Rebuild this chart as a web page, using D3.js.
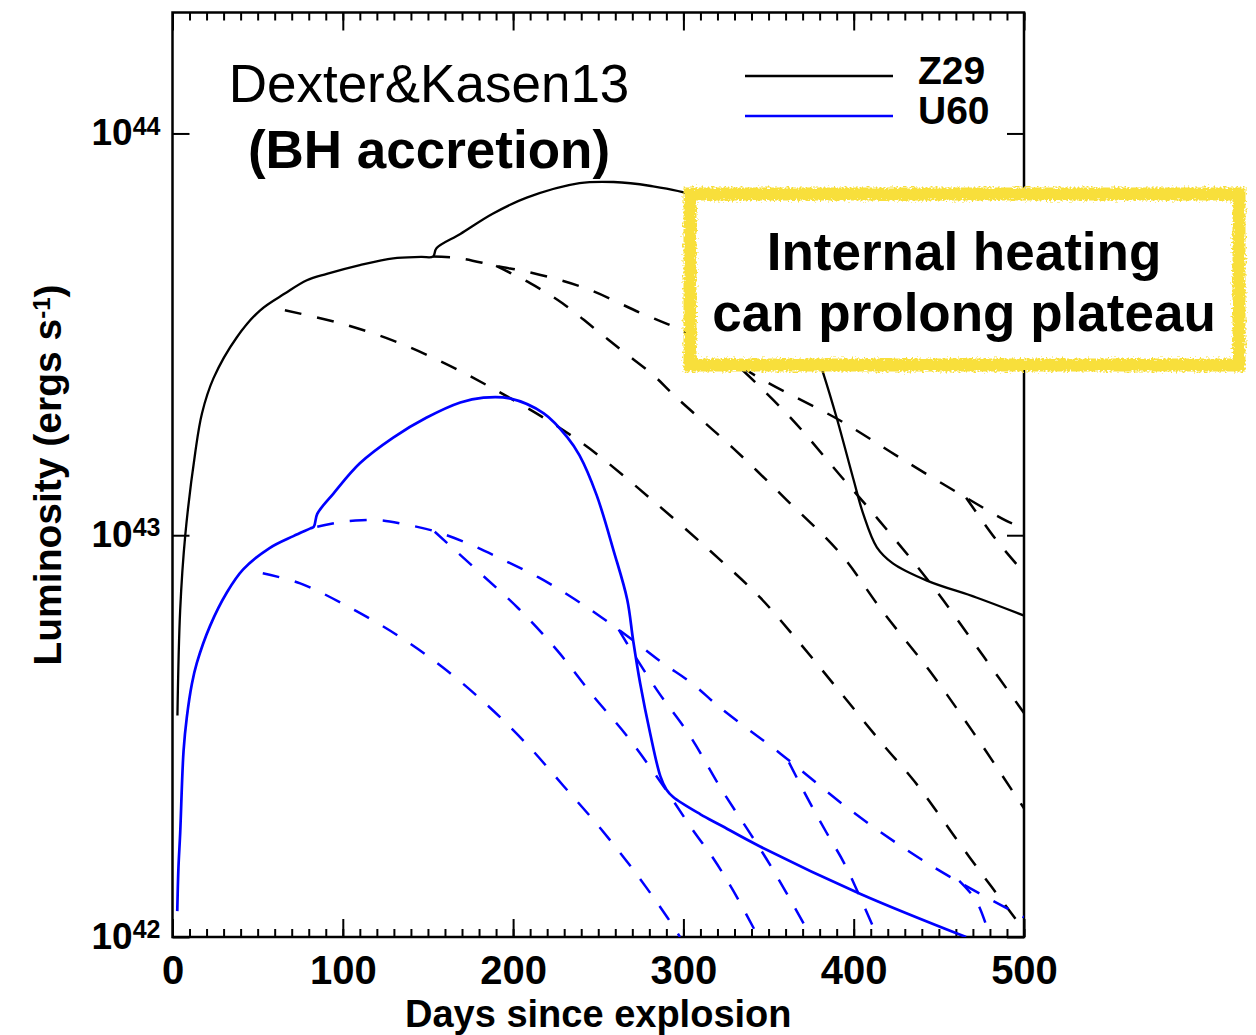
<!DOCTYPE html>
<html>
<head>
<meta charset="utf-8">
<script src="https://cdn.jsdelivr.net/npm/d3@7"></script>
<style>
body { margin: 0; background: #fff; }
text { font-family: "Liberation Sans", Arial, Helvetica, sans-serif; }
</style>
</head>
<body>
<script>
var w = 1256;
var h = 1035;
var plotL = 172.5, plotR = 1024, plotT = 12.5, plotB = 937;
var unit = 1e42; // luminosities below are in units of 1e42 erg/s

// [day, luminosity / 1e42]
var z29Solid = [[2.9,3.56],[4.5,6.5],[7.5,10.0],[13.3,16.0],[17.3,20.1],[24.1,24.6],[37.8,31.1],
    [51.5,36.3],[66.2,40.0],[78.9,43.1],[90.6,44.7],[110,47.0],[129.6,48.9],[146,49.3],[153,49.4],[155,51.8],[169,56.2],
    [188,63.1],[208,69.2],[239,75.2],[259,75.7],[280,74.1],[306,70.1],[320,64.6],[340,55.0],[355,45.7],
    [368,36.3],[376,30.2],[382,25.4],[390,19.6],[400,13.7],[405.6,11.3],[413.6,9.33],[423,8.51],[443,7.71],
    [472,7.0],[500,6.31]];
var z29Dashed = [
    [[66,36.3],[98.5,33.7],[129.6,30.5],[159,26.9],[188,23.2],[218,19.6],[235,17.6],[251,15.7],[282,12.2],
     [316,9.12],[345,7.0],[365.5,5.57],[390,4.17],[417,3.02],[436,2.43],[468,1.58],[500,1.04]],
    [[153,49.4],[169,48.9],[190,46.8],[212,44.9],[243,41.1],[274.5,35.8],[301,32.0],[347,24.3],[392,19.3],
     [427,15.6],[466,12.4],[493,10.7],[500,10.5]],
    [[190,46.8],[210,42.4],[229,37.8],[247,32.9],[264,28.8],[282,25.1],[296,22.0],[329,16.5],[361,12.2],
     [392,9.02],[417,6.46],[445,4.57],[470,3.24],[500,2.09]],
    [[335,25.7],[363,19.6],[392,14.1],[414,11.0],[447,7.41],[476,5.01],[500,3.61]],
    [[466,12.4],[484,9.70],[500,8.07]]
];
var u60Solid = [[2.8,1.16],[3.5,1.49],[4.5,1.81],[6.5,2.91],[8.4,3.52],[11.4,4.27],[14.3,4.81],[22,5.94],
    [32,7.21],[41.5,8.22],[57,9.29],[71,9.95],[81,10.4],[83,10.5],[85,11.3],[94.5,12.7],[110,15.1],[129.6,17.5],
    [149,19.6],[169,21.4],[182.6,22.0],[198,21.9],[218,20.1],[232,17.5],[239,15.8],[249,12.6],[259,9.16],
    [267,6.92],[270.5,5.47],[274.6,4.28],[280.5,3.21],[286.5,2.51],[290,2.33],[294,2.23],[310,2.02],
    [321.6,1.90],[345,1.68],[404,1.28],[466,1.0]];
var u60Dashed = [
    [[53,8.04],[75,7.59],[104,6.61],[132.5,5.62],[159,4.68],[185,3.77],[208,3.02],[229.5,2.38],[251,1.87],
     [271.6,1.45],[290.5,1.12],[298,1.0]],
    [[85,10.5],[89.6,10.6],[100,10.8],[111,10.9],[122,10.9],[134,10.7],[155,10.2],[176,9.44],[195,8.65],
     [215,7.85],[234.6,7.0],[252,6.24],[270.6,5.47],[287.5,4.82],[305,4.28],[321.6,3.72],[357,2.86],
     [400,2.04],[445,1.51],[493,1.16],[500,1.12]],
    [[154,10.2],[179,8.17],[203,6.58],[226,5.16],[247,3.98],[267,3.16],[287.5,2.40],[305,1.86],[317.5,1.57],
     [329,1.31],[344,1.0]],
    [[262,5.82],[267,5.37],[284.6,4.11],[304,3.16],[321.6,2.36],[351,1.51],[375,1.0]],
    [[362,2.72],[373,2.21],[384,1.82],[395,1.51],[414,1.0]],
    [[462,1.38],[472,1.23],[480,1.0]]
];
var xMajor = [0, 100, 200, 300, 400, 500];
var xMinor = d3.range(0, 501, 10);
var yMajor = [1e42, 1e43, 1e44];
var seriesNames = ["Z29", "U60"];
var seriesColors = ["#000000", "#0000ff"];

var svg = d3.select("body")
    .append("svg")
    .attr("width", w)
    .attr("height", h);

var defs = svg.append("defs");
defs.append("clipPath").attr("id", "plotclip")
    .append("rect")
    .attr("x", plotL).attr("y", plotT)
    .attr("width", plotR - plotL).attr("height", plotB - plotT);

var rough = defs.append("filter").attr("id", "rough")
    .attr("x", "-5%").attr("y", "-10%").attr("width", "110%").attr("height", "120%");
rough.append("feTurbulence")
    .attr("type", "fractalNoise")
    .attr("baseFrequency", "0.5")
    .attr("numOctaves", 2)
    .attr("seed", 3)
    .attr("result", "noise");
rough.append("feDisplacementMap")
    .attr("in", "SourceGraphic")
    .attr("in2", "noise")
    .attr("scale", 8)
    .attr("xChannelSelector", "R")
    .attr("yChannelSelector", "G");

var xScale = d3.scaleLinear()
    .domain([0, 500])
    .range([plotL, plotR]);

var yScale = d3.scaleLog()
    .domain([1e42, 2e44])
    .range([plotB, plotT]);

// axes: ticks point inward on all four sides
function styleAxis(g) {
    g.select(".domain").remove();
    g.selectAll(".tick line").attr("stroke", "#000").attr("stroke-width", 2);
}

svg.append("g")
    .attr("transform", "translate(0," + plotB + ")")
    .call(d3.axisBottom(xScale).tickValues(xMinor).tickSize(-8).tickFormat(""))
    .call(styleAxis);

svg.append("g")
    .attr("transform", "translate(0," + plotT + ")")
    .call(d3.axisTop(xScale).tickValues(xMinor).tickSize(-8).tickFormat(""))
    .call(styleAxis);

svg.append("g")
    .attr("transform", "translate(0," + plotT + ")")
    .call(d3.axisTop(xScale).tickValues(xMajor).tickSize(-18).tickFormat(""))
    .call(styleAxis);

var xAxisG = svg.append("g")
    .attr("transform", "translate(0," + plotB + ")")
    .call(d3.axisBottom(xScale).tickValues(xMajor).tickSizeInner(-18).tickSizeOuter(0).tickPadding(19))
    .call(styleAxis);

xAxisG.selectAll(".tick text")
    .attr("fill", "#000")
    .style("font-size", "40px")
    .style("font-weight", "bold");

svg.append("g")
    .attr("transform", "translate(" + plotR + ",0)")
    .call(d3.axisRight(yScale).tickValues(yMajor).tickSize(-17).tickFormat(""))
    .call(styleAxis);

var yAxisG = svg.append("g")
    .attr("transform", "translate(" + plotL + ",0)")
    .call(d3.axisLeft(yScale).tickValues(yMajor).tickSizeInner(-17).tickSizeOuter(0).tickPadding(12))
    .call(styleAxis);

yAxisG.selectAll(".tick text")
    .attr("fill", "#000")
    .attr("dy", "0.3em")
    .style("font-size", "37px")
    .style("font-weight", "bold")
    .each(function (d) {
        var t = d3.select(this);
        t.text("");
        t.append("tspan").text("10");
        t.append("tspan")
            .attr("dy", "-0.42em")
            .style("font-size", "25px")
            .text(Math.round(Math.log10(d)));
    });

// frame
svg.append("rect")
    .attr("x", plotL).attr("y", plotT)
    .attr("width", plotR - plotL).attr("height", plotB - plotT)
    .attr("fill", "none")
    .attr("stroke", "#000")
    .attr("stroke-width", 2.5);

// curves
var line = d3.line()
    .x(function (d) { return xScale(d[0]); })
    .y(function (d) { return yScale(d[1] * unit); })
    .curve(d3.curveCatmullRom.alpha(0.5));

var curves = svg.append("g").attr("clip-path", "url(#plotclip)");

[z29Dashed, u60Dashed].forEach(function (set, k) {
    set.forEach(function (s) {
        curves.append("path")
            .datum(s)
            .attr("d", line)
            .attr("fill", "none")
            .attr("stroke", seriesColors[k])
            .attr("stroke-width", 2.5)
            .attr("stroke-dasharray", "17,16");
    });
});

[z29Solid, u60Solid].forEach(function (s, k) {
    curves.append("path")
        .datum(s)
        .attr("d", line)
        .attr("fill", "none")
        .attr("stroke", seriesColors[k])
        .attr("stroke-width", k == 0 ? 2.3 : 2.7);
});

// title
svg.append("text")
    .attr("x", 429).attr("y", 102)
    .attr("text-anchor", "middle")
    .style("font-size", "53px")
    .text("Dexter&Kasen13");

svg.append("text")
    .attr("x", 429).attr("y", 168)
    .attr("text-anchor", "middle")
    .style("font-size", "53px")
    .style("font-weight", "bold")
    .text("(BH accretion)");

// legend
var legend = svg.append("g");
seriesNames.forEach(function (name, i) {
    legend.append("line")
        .attr("x1", 745).attr("x2", 893)
        .attr("y1", 76 + i * 40).attr("y2", 76 + i * 40)
        .attr("stroke", seriesColors[i])
        .attr("stroke-width", 2.5);
    legend.append("text")
        .attr("x", 918).attr("y", 84 + i * 40)
        .style("font-size", "39px")
        .style("font-weight", "bold")
        .text(name);
});

// axis titles
svg.append("text")
    .attr("x", (plotL + plotR) / 2)
    .attr("y", 1027)
    .attr("text-anchor", "middle")
    .style("font-size", "38px")
    .style("font-weight", "bold")
    .text("Days since explosion");

var yTitle = svg.append("text")
    .attr("transform", "translate(61," + 475 + ") rotate(-90)")
    .attr("text-anchor", "middle")
    .style("font-size", "39px")
    .style("font-weight", "bold");
yTitle.append("tspan").text("Luminosity (ergs s");
yTitle.append("tspan").attr("dy", "-0.45em").style("font-size", "24px").text("-1");
yTitle.append("tspan").attr("dy", "0.29em").text(")");

// annotation box
var note = svg.append("g");
note.append("rect")
    .attr("x", 690).attr("y", 194)
    .attr("width", 549).attr("height", 171)
    .attr("fill", "#fff");
note.append("rect")
    .attr("x", 690).attr("y", 194)
    .attr("width", 549).attr("height", 171)
    .attr("fill", "none")
    .attr("stroke", "#f8df3a")
    .attr("stroke-width", 13)
    .attr("filter", "url(#rough)");
note.append("text")
    .attr("x", 964).attr("y", 270)
    .attr("text-anchor", "middle")
    .style("font-size", "53px")
    .style("font-weight", "bold")
    .text("Internal heating");
note.append("text")
    .attr("x", 964).attr("y", 331)
    .attr("text-anchor", "middle")
    .style("font-size", "53px")
    .style("font-weight", "bold")
    .text("can prolong plateau");
</script>
</body>
</html>
